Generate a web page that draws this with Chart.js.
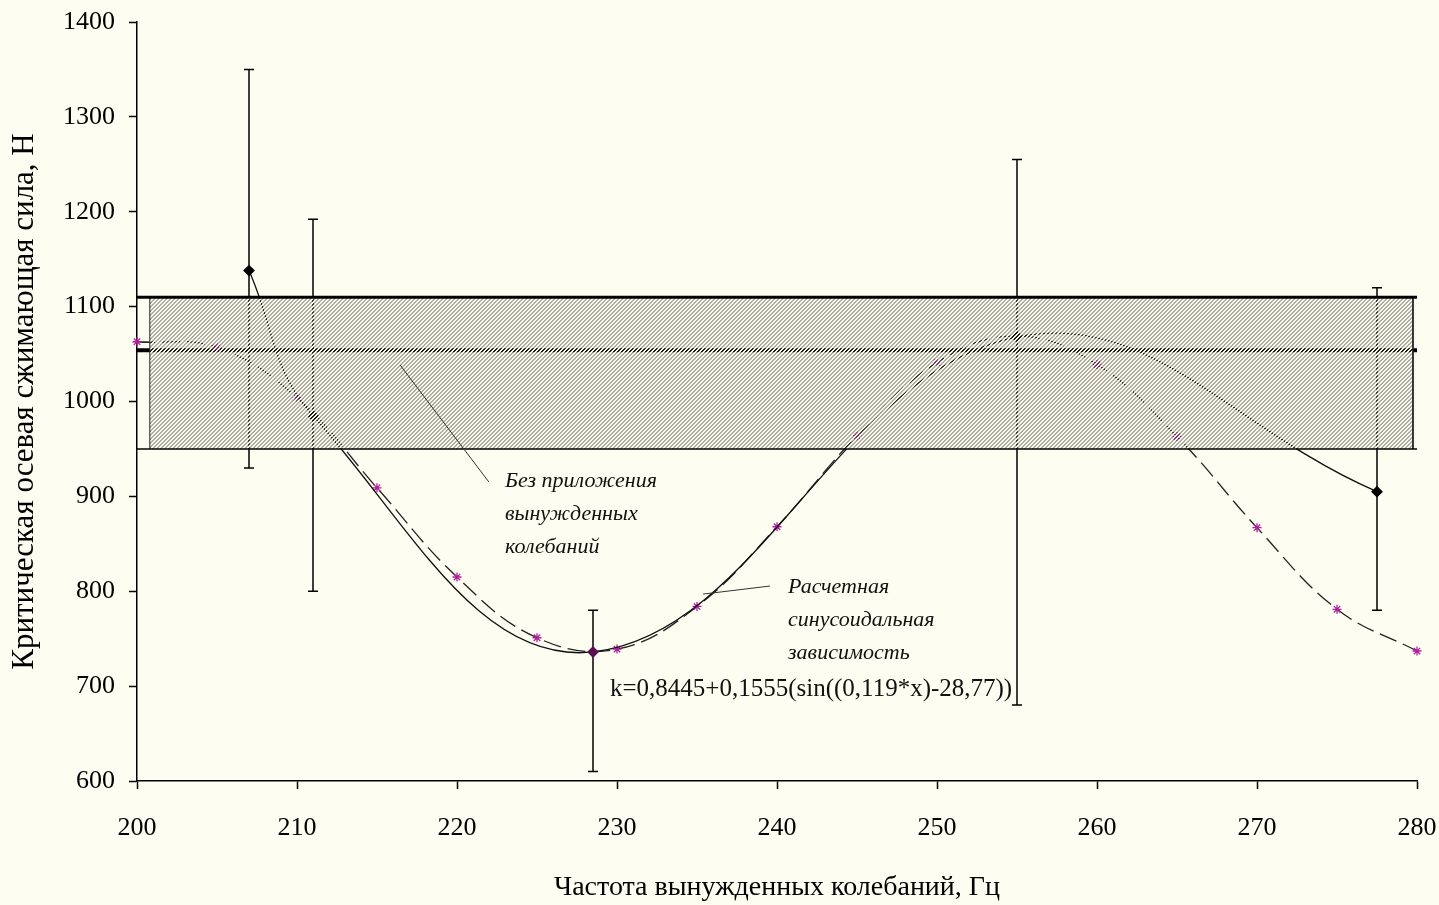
<!DOCTYPE html>
<html>
<head>
<meta charset="utf-8">
<script src="https://cdn.jsdelivr.net/npm/chart.js@4.4.1/dist/chart.umd.min.js"></script>
<style>
  html, body { margin: 0; padding: 0; background: #FDFDF2; }
  canvas { display: block; }
</style>
</head>
<body>
<canvas id="chart" width="1439" height="905"></canvas>
<script>
// Measured critical loads (with scatter limits)
const expFreq  = [207, 211, 228.5, 255, 277.5];
const expForce = [1138, 985, 736, 1068, 905];
const expLow   = [930, 800, 610, 680, 780];
const expHigh  = [1350, 1192, 780, 1255, 1120];

// Calculated sinusoidal dependence
const calcFreq  = [200, 205, 210, 215, 220, 225, 230, 235, 240, 245, 250, 255, 260, 265, 270, 275, 280];
const calcForce = [1063, 1057, 1004, 909, 815, 751, 739, 784, 868, 964, 1041, 1069, 1039, 963, 867, 781, 737];

// Critical load without forced vibrations and its scatter band
const freeFreq  = [200, 280];
const freeForce = [1054, 1054];
const bandFreq  = [200.8, 279.75];
const bandForce = [950, 1110];

// Axis ticks
const xTickValues = [200, 210, 220, 230, 240, 250, 260, 270, 280];
const yTickValues = [600, 700, 800, 900, 1000, 1100, 1200, 1300, 1400];

// Text labels
const freeLabel = ['Без приложения', 'вынужденных', 'колебаний'];
const calcLabel = ['Расчетная', 'синусоидальная', 'зависимость'];
const formulaLabel = 'k=0,8445+0,1555(sin((0,119*x)-28,77))';

const canvas = document.getElementById('chart');
const ctx = canvas.getContext('2d');

// Diagonal hatch: opaque paper stripes alternating with translucent grey stripes
function makeHatch() {
  const n = 8;
  const t = document.createElement('canvas');
  t.width = n; t.height = n;
  const g = t.getContext('2d');
  const img = g.createImageData(n, n);
  for (let y = 0; y < n; y++) {
    for (let x = 0; x < n; x++) {
      const k = (y * n + x) * 4;
      const d = (x + y) % 4;
      if (d < 2) {
        img.data[k] = 70; img.data[k + 1] = 70; img.data[k + 2] = 62; img.data[k + 3] = 110;
      } else {
        img.data[k] = 250; img.data[k + 1] = 250; img.data[k + 2] = 236; img.data[k + 3] = 255;
      }
    }
  }
  g.putImageData(img, 0, 0);
  return ctx.createPattern(t, 'repeat');
}

const pts = (xs, ys) => xs.map((x, i) => ({ x: x, y: ys[i] }));

const bgPlugin = {
  id: 'paper',
  beforeDraw(chart) {
    const c = chart.ctx;
    c.save();
    c.fillStyle = '#FDFDF2';
    c.fillRect(0, 0, chart.width, chart.height);
    c.restore();
  }
};

// Vertical scatter bars with caps
const errorBars = {
  id: 'errorBars',
  beforeDatasetsDraw(chart) {
    const c = chart.ctx, xs = chart.scales.x, ys = chart.scales.y;
    c.save();
    c.strokeStyle = '#000';
    c.lineWidth = 1.5;
    expFreq.forEach((f, i) => {
      const px = xs.getPixelForValue(f);
      const top = ys.getPixelForValue(expHigh[i]);
      const bot = ys.getPixelForValue(expLow[i]);
      c.beginPath();
      c.moveTo(px, top); c.lineTo(px, bot);
      c.moveTo(px - 5, top); c.lineTo(px + 5, top);
      c.moveTo(px - 5, bot); c.lineTo(px + 5, bot);
      c.stroke();
    });
    c.restore();
  }
};

// Captions with leader lines
const captions = {
  id: 'captions',
  afterDatasetsDraw(chart) {
    const c = chart.ctx, xs = chart.scales.x, ys = chart.scales.y;
    const X = v => xs.getPixelForValue(v), Y = v => ys.getPixelForValue(v);
    c.save();
    c.strokeStyle = '#333';
    c.lineWidth = 1;
    c.beginPath();
    c.moveTo(X(216.44), Y(1038.5)); c.lineTo(X(222.0), Y(915));
    c.moveTo(X(235.38), Y(797)); c.lineTo(X(239.56), Y(805.5));
    c.stroke();

    c.fillStyle = '#111';
    c.textAlign = 'left';
    c.textBaseline = 'middle';
    c.font = 'italic 22px "Liberation Serif"';
    freeLabel.forEach((s, i) => c.fillText(s, X(223.0), Y(916) + i * 33));
    calcLabel.forEach((s, i) => c.fillText(s, X(240.69), Y(804.5) + i * 33));
    c.font = '25px "Liberation Serif"';
    c.fillText(formulaLabel, X(229.56), Y(696));
    c.restore();
  }
};

Chart.defaults.font.family = '"Liberation Serif", "Times New Roman", serif';
Chart.defaults.color = '#000';

new Chart(ctx, {
  type: 'scatter',
  data: {
    datasets: [
      {
        label: 'Без приложения вынужденных колебаний',
        data: pts(freeFreq, freeForce),
        showLine: true,
        borderColor: '#000',
        borderWidth: 4,
        pointRadius: 0,
        clip: false,
        order: 6
      },
      {
        label: 'Расчетная синусоидальная зависимость',
        data: pts(calcFreq, calcForce),
        showLine: true,
        borderColor: '#222',
        borderWidth: 1.3,
        borderDash: [18, 7],
        tension: 0.4,
        pointStyle: 'star',
        pointRadius: 4.5,
        pointBorderWidth: 1.3,
        pointBorderColor: '#B0209C',
        pointBackgroundColor: '#B0209C',
        clip: false,
        order: 4
      },
      {
        label: 'Эксперимент',
        data: pts(expFreq, expForce),
        showLine: true,
        borderColor: '#111',
        borderWidth: 1.3,
        tension: 0.4,
        pointStyle: 'rectRot',
        pointRadius: 5,
        pointBorderColor: ['#000', '#000', '#5A1050', '#000', '#000'],
        pointBackgroundColor: ['#000', '#000', '#5A1050', '#000', '#000'],
        clip: false,
        order: 3
      },
      {
        label: 'Полоса разброса',
        data: [
          { x: bandFreq[0], y: bandForce[0] },
          { x: bandFreq[0], y: bandForce[1] },
          { x: bandFreq[1], y: bandForce[1] },
          { x: bandFreq[1], y: bandForce[0] }
        ],
        showLine: true,
        fill: 'shape',
        backgroundColor: makeHatch(),
        borderColor: '#222',
        borderWidth: 1,
        pointRadius: 0,
        tension: 0,
        clip: false,
        order: 2
      },
      {
        label: 'Верхняя граница',
        data: pts(freeFreq, [bandForce[1], bandForce[1]]),
        showLine: true,
        borderColor: '#000',
        borderWidth: 3,
        pointRadius: 0,
        clip: false,
        order: 1
      },
      {
        label: 'Нижняя граница',
        data: pts(freeFreq, [bandForce[0], bandForce[0]]),
        showLine: true,
        borderColor: '#000',
        borderWidth: 1.5,
        pointRadius: 0,
        clip: false,
        order: 0
      }
    ]
  },
  options: {
    responsive: false,
    animation: false,
    events: [],
    layout: { padding: { top: 22, right: 22, left: 0, bottom: 0 } },
    plugins: {
      legend: { display: false },
      tooltip: { enabled: false },
      filler: { drawTime: 'beforeDatasetDraw' }
    },
    scales: {
      x: {
        type: 'linear',
        min: 200,
        max: 280,
        afterBuildTicks(scale) { scale.ticks = xTickValues.map(v => ({ value: v })); },
        afterFit(scale) {
          scale.height = 124;
          scale.paddingLeft = 0; scale.paddingRight = 0;
        },
        ticks: { font: { size: 26 }, padding: 24, color: '#000', callback: v => String(v) },
        grid: { display: true, drawOnChartArea: false, drawTicks: true, tickLength: 8, tickColor: '#000', tickWidth: 1.5 },
        border: { display: true, color: '#000', width: 1.5 },
        title: {
          display: true,
          text: 'Частота вынужденных колебаний, Гц',
          font: { size: 28 },
          color: '#000',
          padding: { top: 0, bottom: 1 }
        }
      },
      y: {
        type: 'linear',
        min: 600,
        max: 1400,
        afterBuildTicks(scale) { scale.ticks = yTickValues.map(v => ({ value: v })); },
        afterFit(scale) {
          scale.width = 137;
          scale.paddingTop = 0; scale.paddingBottom = 0;
        },
        ticks: { font: { size: 26 }, padding: 14, color: '#000', callback: v => String(v) },
        grid: { display: true, drawOnChartArea: false, drawTicks: true, tickLength: 8, tickColor: '#000', tickWidth: 1.5 },
        border: { display: true, color: '#000', width: 1.5 },
        title: {
          display: true,
          text: 'Критическая осевая сжимающая сила, Н',
          font: { size: 31 },
          color: '#000',
          padding: { top: 6, bottom: 0 }
        }
      }
    }
  },
  plugins: [bgPlugin, errorBars, captions]
});
</script>
</body>
</html>
